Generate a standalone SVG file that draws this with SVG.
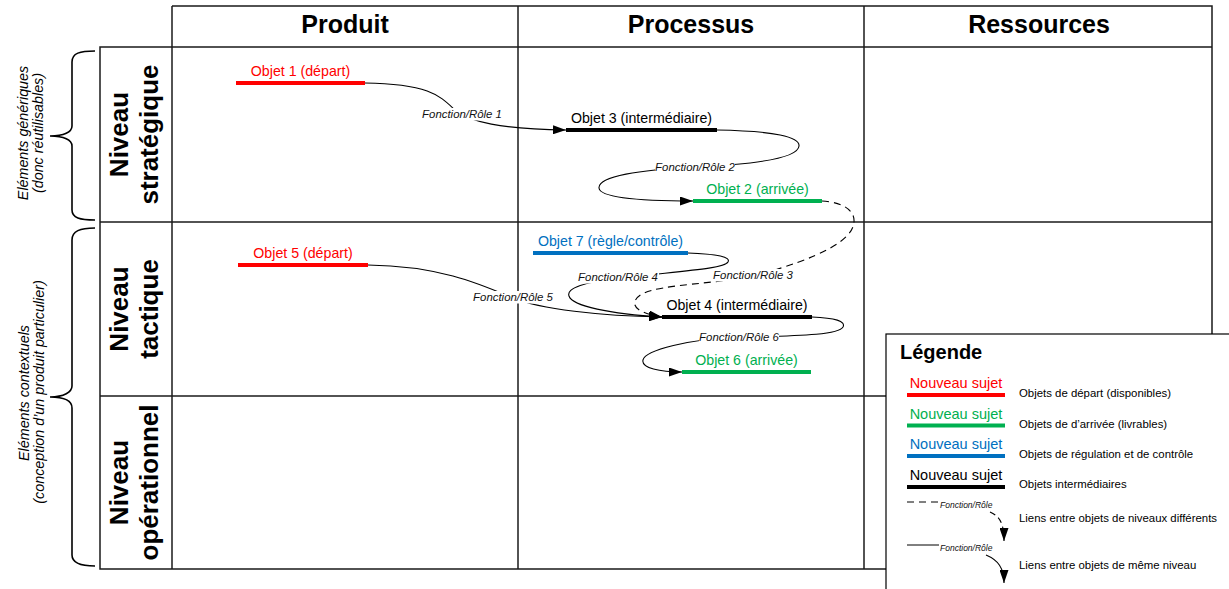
<svg xmlns="http://www.w3.org/2000/svg" width="1229" height="589" viewBox="0 0 1229 589">
  <style>
    .grid { stroke: #1a1a1a; stroke-width: 1.5; fill: none; }
    .head { font-family: "Liberation Sans", Arial, sans-serif; font-weight: bold; font-size: 25px; fill: #000; text-anchor: middle; }
    .lvl { font-family: "Liberation Sans", Arial, sans-serif; font-weight: bold; font-size: 26px; fill: #000; text-anchor: middle; }
    .side { font-family: "Liberation Sans", Arial, sans-serif; font-style: italic; font-size: 14.3px; fill: #000; text-anchor: middle; }
    .brace { stroke: #000; stroke-width: 1.6; fill: none; }
    .obj { font-family: "Liberation Sans", Arial, sans-serif; font-size: 14.2px; text-anchor: middle; }
    .bar { stroke-width: 4; fill: none; }
    .red { fill: #ff0000; } .redb { stroke: #ff0000; }
    .grn { fill: #00b050; } .grnb { stroke: #00b050; }
    .blu { fill: #0070c0; } .blub { stroke: #0070c0; }
    .blk { fill: #000; } .blkb { stroke: #000; }
    .link { stroke: #000; stroke-width: 1.1; fill: none; marker-end: url(#arrow); }
    .dash { stroke-dasharray: 7 5; }
    .fn { font-family: "Liberation Sans", Arial, sans-serif; font-style: italic; font-size: 11.4px; fill: #111; text-anchor: middle; }
    .fnbg { fill: #fff; }
    .lgtitle { font-family: "Liberation Sans", Arial, sans-serif; font-weight: bold; font-size: 20px; fill: #000; }
    .lgs { font-family: "Liberation Sans", Arial, sans-serif; font-size: 14.5px; text-anchor: middle; }
    .lgd { font-family: "Liberation Sans", Arial, sans-serif; font-size: 11.4px; fill: #000; }
    .lgfn { font-family: "Liberation Sans", Arial, sans-serif; font-style: italic; font-size: 8.5px; fill: #111; }
  </style>
  <defs>
    <marker id="arrow" markerUnits="userSpaceOnUse" markerWidth="14" markerHeight="9" refX="13" refY="4.5" orient="auto">
      <path d="M0,0 L13,4.5 L0,9 z" fill="#000"/>
    </marker>
  </defs>

  <rect width="1229" height="589" fill="#fff"/>

  <!-- table frame -->
  <g id="grid" class="grid">
    <path d="M172,6 H1212 V569 H100 V47 H1212"/>
    <path d="M172,6 V569"/>
    <path d="M518,6 V569"/>
    <path d="M864,6 V569"/>
    <path d="M100,222 H1212"/>
    <path d="M100,396 H1212"/>
  </g>

  <!-- column headers -->
  <g id="headers">
    <text class="head" x="345" y="33">Produit</text>
    <text class="head" x="691" y="33">Processus</text>
    <text class="head" x="1039" y="33">Ressources</text>
  </g>

  <!-- level labels -->
  <g id="level-strategique">
    <text class="lvl" transform="translate(128,134.5) rotate(-90)">Niveau</text>
    <text class="lvl" transform="translate(158,134.5) rotate(-90)">stratégique</text>
  </g>
  <g id="level-tactique">
    <text class="lvl" transform="translate(128,309) rotate(-90)">Niveau</text>
    <text class="lvl" transform="translate(158,309) rotate(-90)">tactique</text>
  </g>
  <g id="level-operationnel">
    <text class="lvl" transform="translate(128,482.5) rotate(-90)">Niveau</text>
    <text class="lvl" transform="translate(158,482.5) rotate(-90)">opérationnel</text>
  </g>

  <!-- braces grouping the levels -->
  <g id="brace-generiques">
    <path class="brace" d="M95,51 C80,51 72,53 72,62 L72,126 C72,132 64,136 50,136 C64,136 72,140 72,146 L72,210 C72,218 80,220 95,220"/>
    <text class="side" transform="translate(28,133) rotate(-90)">Eléments génériques</text>
    <text class="side" transform="translate(43,133) rotate(-90)">(donc réutilisables)</text>
  </g>
  <g id="brace-contextuels">
    <path class="brace" d="M95,228 C80,228 72,231 72,240 L72,386 C72,392 64,397 50,397 C64,397 72,401 72,408 L72,555 C72,563 80,566 95,566"/>
    <text class="side" transform="translate(29,393) rotate(-90)">Eléments contextuels</text>
    <text class="side" transform="translate(44,392) rotate(-90)">(conception d’un produit particulier)</text>
  </g>

  <!-- links between objects -->
  <g id="connectors">
    <path id="link-1" class="link" d="M365,83 C430,84 440,96 455,110 C470,122 500,129 566,130"/>
    <path id="link-2" class="link" d="M717,130 C775,131 800,137 799,146 C798,160 740,165 695,167 C640,170 598,176 599,188 C600,198 640,201 693,201"/>
    <path id="link-3" class="link dash" d="M822,201 C842,202 855,210 854,222 C853,240 820,258 757,275 C720,284 660,284 642,294 C630,301 630,312 662,317"/>
    <path id="link-4" class="link" d="M688,253 C718,254 731,257 728,262 C724,269 680,271 620,278 C585,282 566,288 569,296 C572,306 610,314 662,317"/>
    <path id="link-5" class="link" d="M368,265 C440,266 480,284 513,298 C540,309 600,316 662,317"/>
    <path id="link-6" class="link" d="M812,317 C835,318 846,321 843,327 C839,334 810,336 739,337 C690,339 645,350 643,360 C641,368 660,372 682,372"/>

    <rect class="fnbg" x="421" y="108" width="82" height="12.5"/>
    <text class="fn" x="462" y="118">Fonction/Rôle 1</text>
    <rect class="fnbg" x="655" y="161" width="80" height="12.5"/>
    <text class="fn" x="695" y="171">Fonction/Rôle 2</text>
    <rect class="fnbg" x="712" y="269" width="82" height="12.5"/>
    <text class="fn" x="753" y="279">Fonction/Rôle 3</text>
    <rect class="fnbg" x="577" y="271" width="82" height="12.5"/>
    <text class="fn" x="618" y="281">Fonction/Rôle 4</text>
    <rect class="fnbg" x="472" y="291" width="82" height="12.5"/>
    <text class="fn" x="513" y="301">Fonction/Rôle 5</text>
    <rect class="fnbg" x="699" y="330.5" width="80" height="12.5"/>
    <text class="fn" x="739" y="340.5">Fonction/Rôle 6</text>
  </g>

  <!-- objects -->
  <g id="objet-1">
    <line class="bar redb" x1="236" y1="83" x2="365" y2="83"/>
    <text class="obj red" x="300.5" y="76">Objet 1 (départ)</text>
  </g>
  <g id="objet-3">
    <line class="bar blkb" x1="566" y1="130" x2="717" y2="130"/>
    <text class="obj blk" x="641.5" y="123">Objet 3 (intermédiaire)</text>
  </g>
  <g id="objet-2">
    <line class="bar grnb" x1="693" y1="201" x2="822" y2="201"/>
    <text class="obj grn" x="757.5" y="194">Objet 2 (arrivée)</text>
  </g>
  <g id="objet-5">
    <line class="bar redb" x1="238" y1="265" x2="368" y2="265"/>
    <text class="obj red" x="303" y="258">Objet 5 (départ)</text>
  </g>
  <g id="objet-7">
    <line class="bar blub" x1="533" y1="253" x2="688" y2="253"/>
    <text class="obj blu" x="610.5" y="246">Objet 7 (règle/contrôle)</text>
  </g>
  <g id="objet-4">
    <line class="bar blkb" x1="662" y1="317" x2="812" y2="317"/>
    <text class="obj blk" x="737" y="310">Objet 4 (intermédiaire)</text>
  </g>
  <g id="objet-6">
    <line class="bar grnb" x1="682" y1="372" x2="811" y2="372"/>
    <text class="obj grn" x="746.5" y="365">Objet 6 (arrivée)</text>
  </g>

  <!-- legend -->
  <g id="legende">
    <rect x="886" y="334" width="360" height="270" fill="#fff" stroke="#000" stroke-width="1.2"/>
    <text class="lgtitle" x="900" y="359">Légende</text>

    <text class="lgs red" x="956" y="388">Nouveau sujet</text>
    <line class="bar redb" x1="907" y1="395" x2="1005" y2="395"/>
    <text class="lgd" x="1019" y="397">Objets de départ (disponibles)</text>

    <text class="lgs grn" x="956" y="419">Nouveau sujet</text>
    <line class="bar grnb" x1="907" y1="425.5" x2="1005" y2="425.5"/>
    <text class="lgd" x="1019" y="427.5">Objets de d’arrivée (livrables)</text>

    <text class="lgs blu" x="956" y="449">Nouveau sujet</text>
    <line class="bar blub" x1="907" y1="456" x2="1005" y2="456"/>
    <text class="lgd" x="1019" y="457.5">Objets de régulation et de contrôle</text>

    <text class="lgs blk" x="956" y="480">Nouveau sujet</text>
    <line class="bar blkb" x1="907" y1="487" x2="1005" y2="487"/>
    <text class="lgd" x="1019" y="488">Objets intermédiaires</text>

    <line x1="907" y1="502" x2="939" y2="502" stroke="#000" stroke-width="1" stroke-dasharray="7 5"/>
    <text class="lgfn" x="940" y="507.5">Fonction/Rôle</text>
    <path class="link" d="M990,512 C999,516 1004,522 1004,541" stroke-dasharray="6 4"/>
    <text class="lgd" x="1019" y="522">Liens entre objets de niveaux différents</text>

    <line x1="907" y1="545" x2="939" y2="545" stroke="#000" stroke-width="1"/>
    <text class="lgfn" x="940" y="550.5">Fonction/Rôle</text>
    <path class="link" d="M986,555 C998,560 1004,568 1004,583"/>
    <text class="lgd" x="1019" y="569">Liens entre objets de même niveau</text>
  </g>
</svg>
